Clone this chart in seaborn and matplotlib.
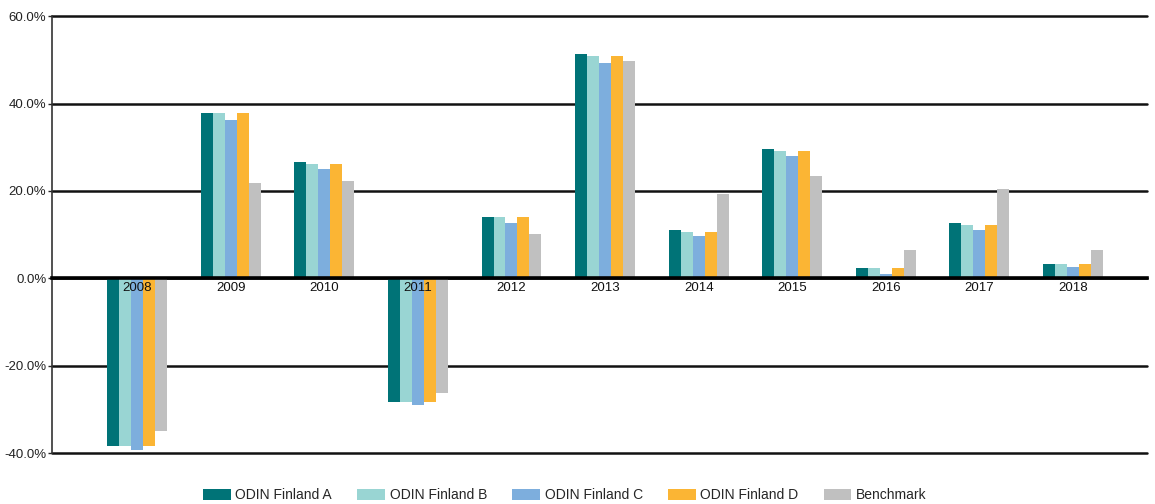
import numpy as np
import pandas as pd
import matplotlib
matplotlib.use('Agg')
import matplotlib.pyplot as plt
import seaborn as sns
from matplotlib.ticker import FuncFormatter

years = ['2008', '2009', '2010', '2011', '2012', '2013', '2014', '2015', '2016', '2017', '2018']
series = ['ODIN Finland A', 'ODIN Finland B', 'ODIN Finland C', 'ODIN Finland D', 'Benchmark']
odin_a = [-38.3, 37.8, 26.6, -28.4, 14.0, 51.3, 11.0, 29.6, 2.3, 12.6, 3.2]
odin_b = [-38.3, 37.8, 26.1, -28.4, 14.0, 50.9, 10.5, 29.1, 2.3, 12.1, 3.2]
odin_c = [-39.2, 36.2, 25.0, -29.0, 12.6, 49.3, 9.6, 28.0, 1.1, 11.0, 2.7]
odin_d = [-38.3, 37.8, 26.1, -28.4, 14.0, 50.9, 10.5, 29.1, 2.3, 12.1, 3.2]
benchmark = [-35.0, 21.8, 22.2, -26.3, 10.1, 49.7, 19.2, 23.4, 6.4, 20.4, 6.4]
colors = ['#007377', '#99D5D3', '#7DAEDD', '#FBB534', '#C0C0C0']

rows = []
for name, vals in zip(series, [odin_a, odin_b, odin_c, odin_d, benchmark]):
    for y, v in zip(years, vals):
        rows.append({'year': y, 'series': name, 'value': v})
df = pd.DataFrame(rows)

sns.set_style('white')
plt.rcParams['font.family'] = ['Liberation Sans', 'DejaVu Sans']

fig = plt.figure(figsize=(11.55, 5.04), dpi=100)
ax = fig.add_axes([0.045, 0.101, 0.948, 0.867])

sns.barplot(data=df, x='year', y='value', hue='series', order=years, hue_order=series,
            palette=colors, width=0.64, saturation=1, ax=ax, errorbar=None,
            linewidth=0, edgecolor='none')

ax.set_ylim(-40, 60)
ax.set_yticks(np.arange(-40, 61, 20))
ax.yaxis.set_major_formatter(FuncFormatter(lambda v, p: f'{v:.1f}%'))
ax.set_xlim(-0.91, 10.79)
ax.grid(axis='y', color='#111111', linewidth=1.8)
for gl in ax.get_ygridlines():
    gl.set_clip_on(False)
ax.set_axisbelow(True)
# year labels sit on the zero line, drawn above the bars
ax.xaxis.set_zorder(5)

for s in ['top', 'right']:
    ax.spines[s].set_visible(False)
ax.spines['left'].set_color('#333333')
ax.spines['left'].set_linewidth(1.2)
ax.spines['bottom'].set_position(('data', 0))
ax.spines['bottom'].set_color('black')
ax.spines['bottom'].set_linewidth(2.6)
ax.spines['bottom'].set_zorder(4)
ax.tick_params(axis='x', length=0, pad=3, labelsize=9.5, labelcolor='#111111')
ax.tick_params(axis='y', length=3, width=1, labelsize=9.5, labelcolor='#222222', left=True, pad=1)
ax.set_xlabel('')
ax.set_ylabel('')

ax.legend(loc='center', bbox_to_anchor=(0.489, 9 / 504), bbox_transform=fig.transFigure,
          ncol=5, frameon=False, fontsize=10, handlelength=2.0, handleheight=0.85,
          columnspacing=1.8, handletextpad=0.35, borderpad=0, borderaxespad=0)

fig.savefig('out.png', dpi=100)
